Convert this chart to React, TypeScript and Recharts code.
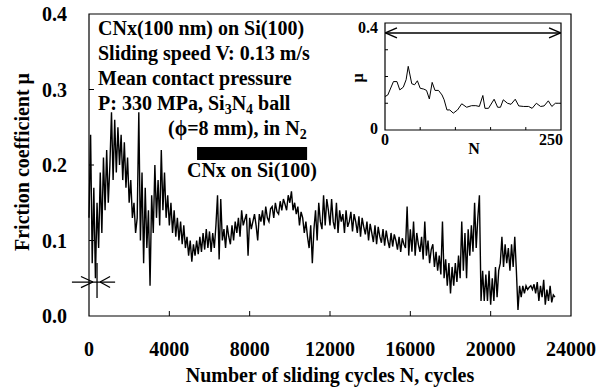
import { LineChart, Line, XAxis, YAxis, ReferenceLine, ReferenceArea } from "recharts";

const serif = '"Liberation Serif", "Times New Roman", serif';

// main trace: friction read every 80 cycles from 0 to 23200
const cycleStep = 80;
const frictionValues = [
  0.13, 0.24, 0.07, 0.17, 0.05, 0.15, 0.09, 0.19, 0.11, 0.21,
  0.14, 0.22, 0.15, 0.2, 0.27, 0.18, 0.26, 0.19, 0.25, 0.2,
  0.24, 0.18, 0.23, 0.17, 0.21, 0.15, 0.18, 0.13, 0.15, 0.11,
  0.13, 0.27, 0.1, 0.19, 0.07, 0.17, 0.09, 0.14, 0.04, 0.16,
  0.11, 0.2, 0.13, 0.18, 0.12, 0.22, 0.14, 0.19, 0.13, 0.16,
  0.12, 0.15, 0.11, 0.14, 0.105, 0.13, 0.1, 0.125, 0.095, 0.12,
  0.09, 0.105, 0.08, 0.1, 0.072, 0.095, 0.08, 0.1, 0.082, 0.105,
  0.085, 0.11, 0.088, 0.115, 0.09, 0.112, 0.085, 0.11, 0.09, 0.12,
  0.16, 0.075, 0.155, 0.1, 0.115, 0.09, 0.12, 0.105, 0.095, 0.12,
  0.1, 0.125, 0.11, 0.13, 0.105, 0.14, 0.12, 0.128, 0.135, 0.08,
  0.13, 0.115, 0.125, 0.135, 0.12, 0.1, 0.135, 0.125, 0.14, 0.12,
  0.145, 0.13, 0.125, 0.142, 0.145, 0.13, 0.15, 0.138, 0.135, 0.152,
  0.14, 0.155, 0.148, 0.14, 0.16, 0.15, 0.165, 0.14, 0.15, 0.135,
  0.145, 0.12, 0.138, 0.13, 0.11, 0.125, 0.105, 0.09, 0.12, 0.07,
  0.115, 0.14, 0.1, 0.15, 0.125, 0.115, 0.16, 0.12, 0.155, 0.14,
  0.12, 0.155, 0.125, 0.115, 0.15, 0.11, 0.14, 0.125, 0.135, 0.11,
  0.14, 0.118, 0.125, 0.138, 0.112, 0.135, 0.125, 0.11, 0.132, 0.105,
  0.13, 0.118, 0.108, 0.125, 0.1, 0.122, 0.11, 0.098, 0.12, 0.095,
  0.118, 0.105, 0.097, 0.115, 0.093, 0.113, 0.1, 0.09, 0.11, 0.092,
  0.108, 0.1, 0.088, 0.105, 0.085, 0.103, 0.095, 0.09, 0.145, 0.08,
  0.115, 0.085, 0.125, 0.08, 0.11, 0.095, 0.085, 0.105, 0.075, 0.125,
  0.08, 0.1, 0.07, 0.088, 0.095, 0.065, 0.085, 0.06, 0.08, 0.055,
  0.125, 0.05, 0.075, 0.04, 0.07, 0.03, 0.065, 0.04, 0.07, 0.045,
  0.08, 0.05, 0.125, 0.06, 0.11, 0.05, 0.115, 0.08, 0.12, 0.085,
  0.15, 0.09, 0.13, 0.16, 0.02, 0.06, 0.02, 0.055, 0.02, 0.06,
  0.015, 0.05, 0.02, 0.065, 0.025, 0.06, 0.07, 0.105, 0.065, 0.095,
  0.07, 0.09, 0.06, 0.095, 0.065, 0.105, 0.06, 0.008, 0.04, 0.025,
  0.04, 0.03, 0.04, 0.035, 0.038, 0.04, 0.035, 0.042, 0.03, 0.045,
  0.02, 0.04, 0.025, 0.048, 0.015, 0.035, 0.02, 0.04, 0.018, 0.028, 0.025,
];

const xTicks = [0, 4000, 8000, 12000, 16000, 20000, 24000];
const yTicks = [0, 0.1, 0.2, 0.3, 0.4];

// inset: first 250 cycles
const insetCycles = [
  0, 4, 12, 17, 21, 26, 30, 33, 38, 42, 46, 50, 55, 59, 63, 67, 71, 76, 81, 84,
  88, 92, 97, 103, 109, 116, 123, 129, 134, 139, 142, 147, 155, 160, 164, 168, 174, 179, 185, 190,
  197, 204, 209, 215, 221, 226, 232, 237, 242, 247, 250,
];
const insetFriction = [
  0.125, 0.131, 0.181, 0.181, 0.15, 0.16, 0.188, 0.238, 0.173, 0.169, 0.184, 0.156, 0.153, 0.148, 0.116, 0.178, 0.148, 0.148, 0.131, 0.113,
  0.075, 0.075, 0.063, 0.075, 0.098, 0.085, 0.091, 0.091, 0.088, 0.129, 0.081, 0.081, 0.115, 0.085, 0.085, 0.113, 0.1, 0.096, 0.115, 0.09,
  0.088, 0.088, 0.081, 0.1, 0.088, 0.09, 0.109, 0.088, 0.1, 0.1, 0.1,
];

// film bar (CNx on Si(100)) and the marker at ~N = 400
const filmRange = [5380, 10860];
const markerCycle = 400;

const mainData = frictionValues.map((mu, i) => ({ cycles: i * cycleStep, mu }));
const insetData = insetCycles.map((n, i) => ({ n, mu: insetFriction[i] }));

const bold = { fontFamily: serif, fontWeight: 700, fill: "#000" };

function InsetXTick({ x, y, payload }: any) {
  const last = payload.value === 250;
  return (
    <text x={last ? x + 2 : x} y={y} dy="0.71em" textAnchor={last ? "end" : "middle"} fontSize={16} {...bold}>
      {payload.value}
    </text>
  );
}

function InsetYTick({ x, y, payload }: any) {
  const top = payload.value > 0;
  return (
    <text x={x} y={y + (top ? 4 : -2)} dy="0.355em" textAnchor="end" fontSize={16} {...bold}>
      {top ? payload.value.toFixed(1) : "0"}
    </text>
  );
}

export default function App() {
  return (
    <div style={{ position: "absolute", left: 0, top: 0, width: 602, height: 387, background: "#fff" }}>
      <div style={{ position: "absolute", left: 0, top: 0 }}>
        <LineChart width={602} height={387} data={mainData} margin={{ top: 14, right: 31, left: 29, bottom: 31 }}>
          <XAxis
            dataKey="cycles"
            type="number"
            domain={[0, 24000]}
            ticks={xTicks}
            axisLine={false}
            tickLine={false}
            tickSize={0}
            tickMargin={26}
            height={40}
            tick={{ fontSize: 20, ...bold }}
          />
          <YAxis
            type="number"
            domain={[0, 0.4]}
            ticks={yTicks}
            axisLine={false}
            tickLine={false}
            tickSize={0}
            tickMargin={22}
            width={60}
            tickFormatter={(v) => v.toFixed(1)}
            tick={{ fontSize: 20, ...bold }}
          />
          <ReferenceArea x1={0} x2={24000} y1={0} y2={0.4} fill="none" stroke="#000" strokeWidth={1.2} />
          {xTicks.slice(1, -1).map((t) => (
            <ReferenceLine key={"xt" + t} segment={[{ x: t, y: 0 }, { x: t, y: 0.0066 }]} stroke="#000" />
          ))}
          {yTicks.slice(1, -1).map((t) => (
            <ReferenceLine key={"yt" + t} segment={[{ x: 0, y: t }, { x: 250, y: t }]} stroke="#000" />
          ))}
          <ReferenceArea x1={filmRange[0]} x2={filmRange[1]} y1={0.2066} y2={0.2238} fill="#000" fillOpacity={1} stroke="none" />
          {/* marker: ->|<- */}
          <ReferenceLine ifOverflow="visible" segment={[{ x: -850, y: 0.045 }, { x: 1300, y: 0.045 }]} stroke="#000" strokeWidth={1.3} />
          <ReferenceLine ifOverflow="visible" segment={[{ x: markerCycle, y: 0.0238 }, { x: markerCycle, y: 0.0702 }]} stroke="#000" strokeWidth={1.3} />
          <ReferenceLine ifOverflow="visible" segment={[{ x: -400, y: 0.0523 }, { x: 200, y: 0.045 }]} stroke="#000" strokeWidth={1.3} />
          <ReferenceLine ifOverflow="visible" segment={[{ x: -400, y: 0.0377 }, { x: 200, y: 0.045 }]} stroke="#000" strokeWidth={1.3} />
          <ReferenceLine ifOverflow="visible" segment={[{ x: 1050, y: 0.0523 }, { x: 550, y: 0.045 }]} stroke="#000" strokeWidth={1.3} />
          <ReferenceLine ifOverflow="visible" segment={[{ x: 1050, y: 0.0377 }, { x: 550, y: 0.045 }]} stroke="#000" strokeWidth={1.3} />
          <Line dataKey="mu" stroke="#000" strokeWidth={1.4} strokeLinejoin="miter" dot={false} isAnimationActive={false} />
        </LineChart>
      </div>

      {/* inset */}
      <div style={{ position: "absolute", left: 330, top: 5 }}>
        <LineChart width={260} height={170} data={insetData} margin={{ top: 18, right: 29, left: 15, bottom: 15 }}>
          <XAxis
            dataKey="n"
            type="number"
            domain={[0, 250]}
            ticks={[0, 250]}
            axisLine={false}
            tickLine={false}
            tickSize={0}
            tickMargin={4}
            height={30}
            tick={<InsetXTick />}
          />
          <YAxis
            type="number"
            domain={[0, 0.4]}
            ticks={[0, 0.4]}
            axisLine={false}
            tickLine={false}
            tickSize={0}
            tickMargin={7}
            width={40}
            tick={<InsetYTick />}
          />
          <ReferenceArea x1={0} x2={250} y1={0} y2={0.4} fill="none" stroke="#000" strokeWidth={1.2} />
          {[50, 100, 150, 200].map((t) => (
            <ReferenceLine key={"ix" + t} segment={[{ x: t, y: 0 }, { x: t, y: 0.011 }]} stroke="#000" />
          ))}
          {[0.1, 0.2, 0.3].map((t) => (
            <ReferenceLine key={"iy" + t} segment={[{ x: 0, y: t }, { x: 4.3, y: t }]} stroke="#000" />
          ))}
          <ReferenceLine segment={[{ x: 0.5, y: 0.363 }, { x: 249.5, y: 0.363 }]} stroke="#000" strokeWidth={1.5} />
          <ReferenceLine segment={[{ x: 17, y: 0.3817 }, { x: 0.5, y: 0.363 }]} stroke="#000" strokeWidth={1.5} />
          <ReferenceLine segment={[{ x: 17, y: 0.3443 }, { x: 0.5, y: 0.363 }]} stroke="#000" strokeWidth={1.5} />
          <ReferenceLine segment={[{ x: 233, y: 0.3817 }, { x: 249.5, y: 0.363 }]} stroke="#000" strokeWidth={1.5} />
          <ReferenceLine segment={[{ x: 233, y: 0.3443 }, { x: 249.5, y: 0.363 }]} stroke="#000" strokeWidth={1.5} />
          <Line dataKey="mu" stroke="#000" strokeWidth={1} dot={false} isAnimationActive={false} />
        </LineChart>
      </div>

      {/* titles and notes */}
      <svg width={602} height={387} style={{ position: "absolute", left: 0, top: 0, pointerEvents: "none" }}>
        <g fontFamily={serif} fontWeight={700} fill="#000" fontSize={20}>
          <text x={330} y={382} textAnchor="middle">Number of sliding cycles N, cycles</text>
          <text x={29} y={162} textAnchor="middle" transform="rotate(-90 29 162)">Friction coefficient μ</text>
          <text x={98} y={35}>CNx(100 nm) on Si(100)</text>
          <text x={98} y={60}>Sliding speed V: 0.13 m/s</text>
          <text x={98} y={85}>Mean contact pressure</text>
          <text x={98} y={110}>
            P: 330 MPa, Si<tspan fontSize={14} dy={4}>3</tspan>
            <tspan dy={-4}>N</tspan>
            <tspan fontSize={14} dy={4}>4</tspan>
            <tspan dy={-4}> ball</tspan>
          </text>
          <text x={168} y={135}>
            (ϕ=8 mm), in N<tspan fontSize={14} dy={4}>2</tspan>
          </text>
          <text x={252} y={177} textAnchor="middle">CNx on Si(100)</text>
          <text x={474} y={154} textAnchor="middle" fontSize={16}>N</text>
          <text x={363} y={78} textAnchor="middle" fontSize={16} transform="rotate(-90 363 78)">μ</text>
        </g>
      </svg>
    </div>
  );
}
